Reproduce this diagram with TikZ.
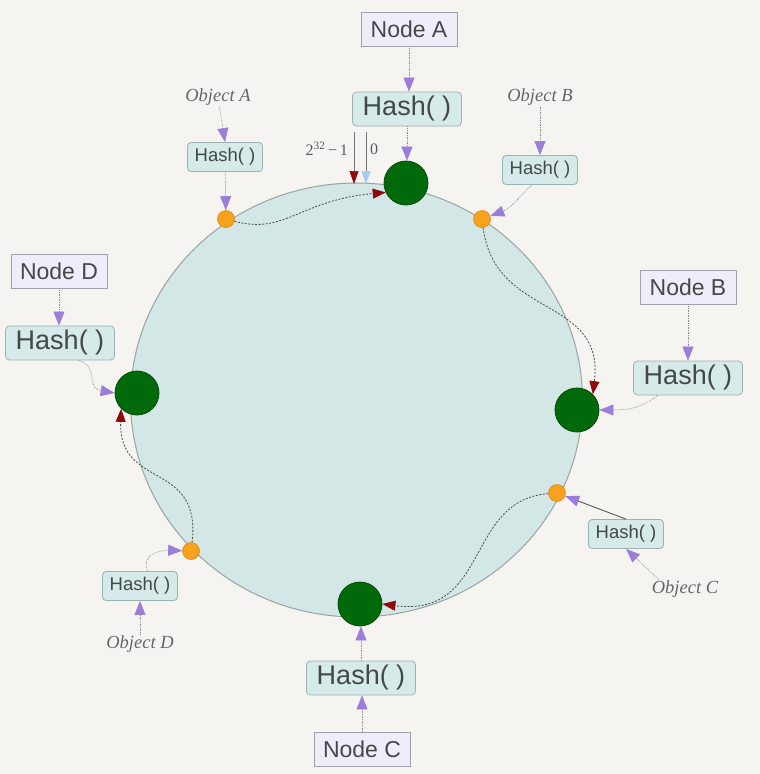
\documentclass[tikz,border=0pt]{standalone}
\usepackage{fontspec}
\setmainfont{Liberation Serif}
\setsansfont{Liberation Sans}
\usetikzlibrary{arrows.meta}
\definecolor{bg}{HTML}{F6F4F1}
\definecolor{ringfill}{HTML}{D3E7E7}
\definecolor{ringline}{HTML}{9AA3A3}
\definecolor{nodefill}{HTML}{EEEEFA}
\definecolor{nodeline}{HTML}{A0A0AA}
\definecolor{hashfill}{HTML}{D6EAEA}
\definecolor{hashline}{HTML}{9FB0B0}
\definecolor{purp}{HTML}{9B7ED8}
\definecolor{darkred}{HTML}{8E0A0A}
\definecolor{lblue}{HTML}{A5CDEB}
\definecolor{gfill}{HTML}{006A0A}
\definecolor{gline}{HTML}{0A4A0A}
\definecolor{ofill}{HTML}{F7A21E}
\definecolor{oline}{HTML}{E2860C}
\definecolor{txt}{HTML}{444848}
\tikzset{
  nodebox/.style={draw=nodeline, fill=nodefill, line width=0.8pt, text=txt, font=\sffamily\fontsize{23}{23}\selectfont, minimum width=96pt, minimum height=34pt, inner sep=0pt},
  bighash/.style={draw=hashline, fill=hashfill, line width=0.8pt, rounded corners=4pt, text=txt, font=\sffamily\fontsize{27}{27}\selectfont, minimum width=109pt, minimum height=34pt, inner sep=0pt},
  smallhash/.style={draw=hashline, fill=hashfill, line width=0.8pt, rounded corners=3.5pt, text=txt, font=\sffamily\fontsize{18.5}{18.5}\selectfont, minimum width=75pt, minimum height=29pt, inner sep=0pt},
  objlabel/.style={text=black!60, font=\itshape\fontsize{18.5}{18.5}\selectfont, inner sep=1pt},
  gnode/.style={circle, draw=gline, fill=gfill, line width=0.8pt, minimum size=44pt, inner sep=0pt},
  onode/.style={circle, draw=oline, fill=ofill, line width=0.6pt, minimum size=17pt, inner sep=0pt},
  parrow/.style={draw=black!45, densely dotted, line width=0.7pt, -{Triangle[length=14pt,width=11pt,fill=purp,color=purp]}},
  psolid/.style={draw=black!65, line width=0.9pt, -{Triangle[length=14pt,width=11pt,fill=purp,color=purp]}},
  rarrow/.style={draw=black!70, dash pattern=on 2pt off 1.5pt, line width=0.8pt, -{Triangle[length=13pt,width=10pt,fill=darkred,color=darkred]}},
}
\begin{document}
\begin{tikzpicture}[x=1pt,y=-1pt]
\useasboundingbox (0,0) rectangle (760,774);
\fill[bg] (0,0) rectangle (760,774);
% ring
\draw[fill=ringfill, draw=ringline, line width=1pt] (356.5,400) ellipse [x radius=226, y radius=217];
% servers
\node[gnode] (gA) at (406,183) {};
\node[gnode] (gB) at (577,410) {};
\node[gnode] (gC) at (360,604) {};
\node[gnode] (gD) at (137,393) {};
% objects
\node[onode] (oA) at (226,219) {};
\node[onode] (oB) at (482,219) {};
\node[onode] (oC) at (557,493) {};
\node[onode] (oD) at (191,551) {};
% boxes
\node[nodebox] (nA) at (409,29) {Node A};
\node[bighash] (hA) at (407,109) {Hash( )};
\node[nodebox] (nB) at (688,287) {Node B};
\node[bighash] (hB) at (688,378) {Hash( )};
\node[nodebox] (nC) at (362,749) {Node C};
\node[bighash] (hC) at (361,678) {Hash( )};
\node[nodebox] (nD) at (59,271) {Node D};
\node[bighash] (hD) at (60,343) {Hash( )};
\node[smallhash] (sA) at (225,157) {Hash( )};
\node[smallhash] (sB) at (540,170) {Hash( )};
\node[smallhash] (sC) at (626,534) {Hash( )};
\node[smallhash] (sD) at (140,586) {Hash( )};
\node[objlabel] (tA) at (218,97) {Object A};
\node[objlabel] (tB) at (540,97) {Object B};
\node[objlabel] (tC) at (685,589) {Object C};
\node[objlabel] (tD) at (140,644) {Object D};
% server hash arrows
\draw[parrow] (nA) -- (nA |- hA.north);
\draw[parrow] (hA) -- (hA |- gA.north);
\draw[parrow] (nB) -- (nB |- hB.north);
\draw[parrow] (hB.south west) ++(25,0) coordinate (hBs) (hBs) .. controls (640,408) and (630,410) .. (gB.east);
\draw[parrow] (nC) -- (nC |- hC.south);
\draw[parrow] (hC) -- (hC |- gC.south);
\draw[parrow] (nD) -- (nD |- hD.north);
\draw[parrow] (hD.south) ++(18,0) coordinate (hDs) (hDs) .. controls (100,366) and (85,388) .. (gD.west);
% object hash arrows
\draw[parrow] (tA) -- (sA.north);
\draw[parrow] (sA) -- (oA);
\draw[parrow] (tB) -- (sB);
\draw[parrow] (sB.south) ++(-8,0) coordinate (sBs) (sBs) .. controls (520,195) and (512,208) .. (oB);
\draw[parrow] (tC.north west) ++(8,0) coordinate (tCn) (tCn) -- (sC.south);
\draw[psolid] (sC.north) -- (oC);
\draw[parrow] (tD) -- (sD);
\draw[parrow] (sD.north) ++(8,0) coordinate (sDn) (sDn) .. controls (140,555) and (160,550) .. (oD);
% ring walk arrows
\draw[rarrow] (oA) .. controls (285,235) and (300,200) .. (gA.205);
\draw[rarrow] (oB) .. controls (495,320) and (605,295) .. (gB.north east);
\draw[rarrow] (oC) .. controls (465,500) and (490,618) .. (gC.east);
\draw[rarrow] (oD) .. controls (202,460) and (118,490) .. (gD.south west);
% zero mark
\coordinate (zt1) at (354,132);
\coordinate (zb1) at (354,184);
\coordinate (zt2) at (366,132);
\coordinate (zb2) at (366,184);
\draw[draw=black!55, line width=0.7pt, -{Triangle[length=13pt,width=9pt,fill=darkred,color=darkred]}] (zt1) -- (zb1);
\draw[draw=black!55, line width=0.7pt, -{Triangle[length=13pt,width=9pt,fill=lblue,color=lblue]}] (zt2) -- (zb2);
\node[text=black!65, font=\fontsize{16}{16}\selectfont, anchor=east, inner sep=0pt] (lmax) at (348,149) {2\textsuperscript{32}\,−\,1};
\node[text=black!65, font=\fontsize{16}{16}\selectfont, anchor=west, inner sep=0pt] (lzero) at (370,149) {0};
\end{tikzpicture}
\end{document}
